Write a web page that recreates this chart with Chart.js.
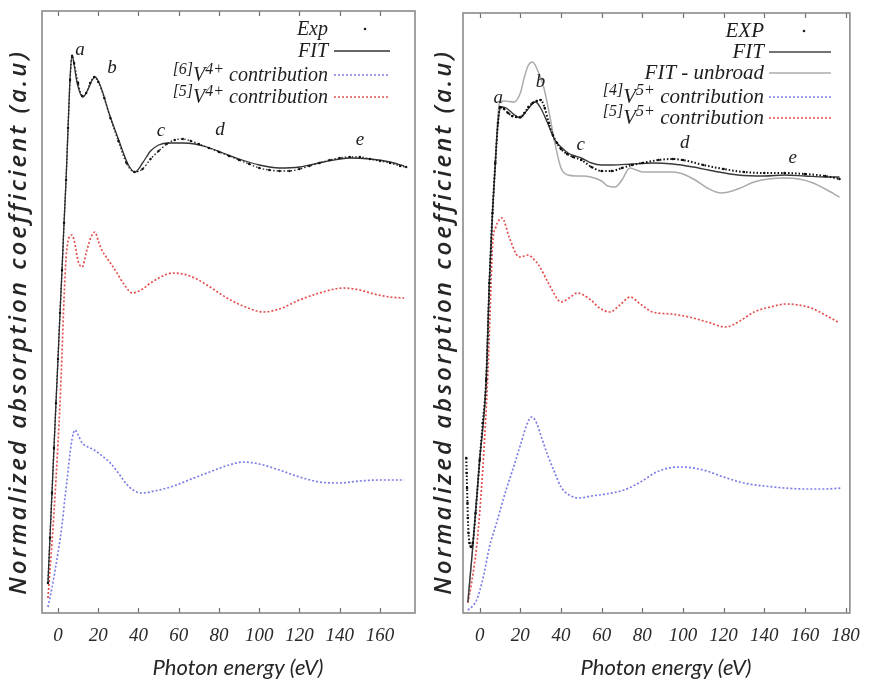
<!DOCTYPE html>
<html><head><meta charset="utf-8">
<script src="https://cdn.jsdelivr.net/npm/chart.js@4.4.1/dist/chart.umd.min.js"></script>
<style>
body{margin:0;background:#fff}
#wrap{position:relative;width:872px;height:682px;background:#fff}
canvas{position:absolute;top:0}
</style>
</head><body>
<div id="wrap">
<canvas id="cL" width="426" height="682" style="left:0"></canvas>
<canvas id="cR" width="446" height="682" style="left:426px"></canvas>
</div>
<script>
// ---------- Left panel (V4+) ----------
const leftTicks = [0,20,40,60,80,100,120,140,160];
const leftFitE = [-5,-3,-1,0,1,2,3,4,5,6,7,8,9.5,12.4,15,17,18.4,20,22,25,30,35,38.3,42,46,50,55,62,68,74,82,90,100,110,120,132,145,155,165,172];
const leftFit  = [0.30,1.2,2.1,2.54,3.0,3.43,3.9,4.33,4.85,5.35,5.58,5.48,5.30,5.16,5.24,5.33,5.36,5.32,5.22,5.02,4.74,4.48,4.41,4.50,4.62,4.68,4.70,4.70,4.69,4.66,4.60,4.54,4.48,4.45,4.46,4.51,4.55,4.54,4.51,4.47];
const leftExpE = [-5,-4,-3,-2,-1,0,1,2,3,4,5,6,7,8,10,12,14,16,18,20,23,26,30,34,38,42,46,50,54,58,62,66,70,75,80,85,90,95,100,105,110,115,120,125,130,135,140,145,150,155,160,165,170,173];
const leftExp  = [0.30,0.75,1.2,1.65,2.1,2.54,3.0,3.43,3.9,4.33,4.85,5.33,5.57,5.50,5.30,5.17,5.20,5.30,5.36,5.31,5.15,4.95,4.72,4.50,4.41,4.44,4.54,4.62,4.69,4.73,4.74,4.72,4.69,4.65,4.61,4.57,4.53,4.49,4.45,4.43,4.42,4.42,4.44,4.47,4.50,4.53,4.55,4.56,4.56,4.54,4.52,4.50,4.47,4.46];
const leftV6E  = [-5,-3,-1,0,2,3.5,5,6,7,8.4,10,12,14,18,22,26,30,34,38,42,48,56,65,74,85,92,100,110,120,130,140,150,160,172];
const leftV6   = [0.06,0.25,0.48,0.6,0.88,1.16,1.42,1.6,1.74,1.83,1.78,1.70,1.67,1.63,1.57,1.50,1.40,1.29,1.22,1.20,1.22,1.26,1.33,1.40,1.48,1.51,1.49,1.43,1.36,1.31,1.30,1.32,1.33,1.33];
const leftV5E  = [-5,-3,-2,0,1,2,3,4,5,6,7,8.5,10,12,14,16,18.4,20,22,24,29,33,37,42,46,52,57,62,68,74,84,92,102,110,120,130,142,150,157,165,172];
const leftV5   = [0.15,0.7,1.0,1.7,2.1,2.6,3.15,3.55,3.72,3.77,3.78,3.68,3.52,3.46,3.6,3.74,3.81,3.72,3.62,3.56,3.41,3.28,3.20,3.24,3.30,3.37,3.40,3.39,3.35,3.28,3.15,3.07,3.01,3.04,3.13,3.20,3.25,3.23,3.19,3.16,3.15];
const leftPeakNames = ['a','b','c','d','e'];
const leftPeakE = [10.9,26.8,51.2,80.5,150];
const leftPeakV = [5.63,5.45,4.82,4.83,4.73];

// ---------- Right panel (V5+) ----------
const rightTicks = [0,20,40,60,80,100,120,140,160,180];
const rightFitE = [-5.8,-3.4,0,3.2,4.8,6.3,7.7,9,10.6,13,16,20,23,27.5,30,33,37,40,43.5,47,50,55,60,65,75,85,95,105,115,127,140,150,160,170,177];
const rightFit  = [0.11,0.66,1.53,2.33,3.33,4.0,4.5,4.9,5.06,5.05,5.0,4.95,5.02,5.11,5.05,4.92,4.73,4.66,4.60,4.57,4.55,4.50,4.48,4.48,4.49,4.50,4.49,4.46,4.42,4.38,4.37,4.38,4.37,4.36,4.36];
const rightExpE = [-6.6,-6.4,-6.2,-6,-5.8,-5.5,-5,-4.2,-3.4,-2,0,1.5,3.2,4.8,6.3,7.7,9,10,12,14,16,18,20,22,24,26,28,30,32,34,36,38,40,43,46,50,55,60,65,70,75,80,88,95,100,110,120,130,140,150,160,170,177];
const rightExp  = [1.55,1.40,1.25,1.10,0.95,0.80,0.70,0.66,0.70,1.0,1.53,1.9,2.33,3.3,4.0,4.5,4.9,5.06,5.04,5.0,4.97,4.96,4.96,5.0,5.06,5.10,5.12,5.13,5.05,4.90,4.78,4.70,4.64,4.59,4.56,4.53,4.46,4.42,4.42,4.45,4.48,4.50,4.53,4.54,4.53,4.48,4.44,4.41,4.40,4.40,4.39,4.37,4.34];
const rightUnbE = [-5.8,-3.4,0,3.2,4.8,6.3,7.7,9.7,12,17,20,22,24,26,28,31.5,34,37,40,43.4,48,54.7,60,63,66.6,70,73.8,77,80.5,88,95,100,106,112,119,127,135,142,150,157,164,170,177];
const rightUnb  = [0.11,0.66,1.53,2.33,3.33,4.0,4.5,5.1,5.12,5.11,5.2,5.36,5.48,5.51,5.45,5.26,5.02,4.70,4.45,4.38,4.37,4.36,4.32,4.27,4.26,4.33,4.45,4.43,4.41,4.41,4.41,4.39,4.33,4.25,4.20,4.24,4.31,4.34,4.35,4.34,4.30,4.24,4.16];
const rightV4E  = [-5.8,-3,-1.5,0,2,4.8,8,13,17,20.8,23.5,25.6,28,30.5,33.8,37,40,44,49,55,62,71,80,86,93,100,110,120,130,140,150,160,170,178];
const rightV4   = [0.03,0.08,0.13,0.22,0.38,0.66,0.88,1.23,1.48,1.73,1.90,1.96,1.90,1.75,1.56,1.40,1.26,1.18,1.15,1.17,1.19,1.23,1.32,1.40,1.45,1.46,1.43,1.36,1.30,1.27,1.25,1.24,1.24,1.25];
const rightV5E  = [-5.8,-4,-1.5,0,2,3.9,4.8,5.6,6.4,8,9.5,11,14.5,17.7,19.3,22,24,26,29,33.8,38.6,40,44,48,54.7,59,64,69,74,79,85,94,103,112,121,128,135,143,151,157,163,170,177];
const rightV5   = [0.1,0.3,0.66,1.0,1.6,2.33,2.8,3.3,3.7,3.86,3.93,3.95,3.76,3.60,3.56,3.57,3.58,3.55,3.48,3.30,3.13,3.11,3.15,3.20,3.13,3.05,3.01,3.08,3.16,3.09,3.01,2.99,2.96,2.91,2.86,2.92,3.01,3.06,3.09,3.08,3.05,2.98,2.90];
const rightPeakNames = ['a','b','c','d','e'];
const rightPeakE = [9.2,29.9,49.7,100.9,154];
const rightPeakV = [5.15,5.31,4.68,4.70,4.55];

const xTitle = 'Photon energy (eV)';
const yTitle = 'Normalized absorption coefficient (a.u)';

// ---------- styles ----------
const BLUE = '#7d7de8', RED = '#e45050', BLACK = '#262626', GREY = '#ababab';
const SERIF = '"Liberation Serif", "Times New Roman", serif';
const SANS = 'Lato, "Open Sans", sans-serif';
const YSANS = '"Open Sans", Lato, sans-serif';

function pts(xs, ys){ return xs.map((x,i)=>({x:x, y:ys[i]})); }

function drawRich(ctx, parts, rightX, y, size){
  const supSize = Math.round(size*0.78);
  let total = 0;
  parts.forEach(p=>{ ctx.font = 'italic ' + (p.sup?supSize:size) + 'px ' + SERIF; p.w = ctx.measureText(p.t).width; total += p.w; });
  let x = rightX - total;
  ctx.textAlign = 'left'; ctx.textBaseline = 'alphabetic';
  parts.forEach(p=>{
    ctx.font = 'italic ' + (p.sup?supSize:size) + 'px ' + SERIF;
    ctx.fillText(p.t, x, p.sup ? y - size*0.36 : y);
    x += p.w;
  });
}

function framePlugin(cfg){
  return {
    id: 'frame',
    afterDraw(chart){
      const ctx = chart.ctx;
      const a = chart.chartArea;
      const xs = chart.scales.x, ys = chart.scales.y;
      ctx.save();
      // inward tick marks top and bottom
      ctx.strokeStyle = '#707070'; ctx.lineWidth = 1.2;
      cfg.ticks.forEach(v=>{
        const px = Math.round(xs.getPixelForValue(v)) + 0.5;
        ctx.beginPath();
        ctx.moveTo(px, a.bottom); ctx.lineTo(px, a.bottom - 5);
        ctx.moveTo(px, a.top); ctx.lineTo(px, a.top + 5);
        ctx.stroke();
      });
      // frame
      ctx.strokeStyle = '#8a8a8a'; ctx.lineWidth = 1.6;
      ctx.strokeRect(a.left, a.top, a.right - a.left, a.bottom - a.top);
      // peak labels
      ctx.fillStyle = '#222';
      ctx.font = 'italic 19px ' + SERIF;
      ctx.textAlign = 'center'; ctx.textBaseline = 'middle';
      cfg.peakNames.forEach((n,i)=>{
        ctx.fillText(n, xs.getPixelForValue(cfg.peakE[i]), ys.getPixelForValue(cfg.peakV[i]));
      });
      // legend
      cfg.legend.forEach(it=>{
        ctx.fillStyle = '#1e1e1e';
        drawRich(ctx, it.parts, cfg.legX, it.y + 6, cfg.legSize);
        ctx.setLineDash(it.dash || []);
        if (it.kind === 'dot'){
          ctx.fillStyle = it.color;
          ctx.beginPath(); ctx.arc(cfg.legDot, it.y, 1.3, 0, Math.PI*2); ctx.fill();
        } else {
          ctx.strokeStyle = it.color; ctx.lineWidth = it.width;
          ctx.beginPath(); ctx.moveTo(cfg.legL, it.y); ctx.lineTo(cfg.legR, it.y); ctx.stroke();
        }
        ctx.setLineDash([]);
      });
      // x title
      ctx.fillStyle = '#262626';
      ctx.font = 'italic 22px ' + SANS;
      ctx.textAlign = 'center'; ctx.textBaseline = 'middle';
      ctx.fillText(xTitle, cfg.xTitleX, 668);
      // y title
      ctx.translate(cfg.yTitleX, 322);
      ctx.rotate(-Math.PI/2);
      ctx.font = 'italic 600 24px ' + YSANS;
      ctx.letterSpacing = '0px';
      const w0 = ctx.measureText(yTitle).width;
      const ls = Math.max(0, (545 - w0) / yTitle.length);
      ctx.letterSpacing = ls.toFixed(2) + 'px';
      ctx.textAlign = 'center'; ctx.textBaseline = 'middle';
      ctx.fillText(yTitle, 0, 0);
      ctx.restore();
    }
  };
}

function makeChart(id, datasets, cfg){
  return new Chart(document.getElementById(id), {
    type: 'line',
    data: { datasets: datasets },
    options: {
      responsive: false, animation: false, devicePixelRatio: 1,
      layout: { padding: { left: cfg.padL, right: cfg.padR, top: cfg.padT, bottom: 0 } },
      plugins: { legend: { display: false }, tooltip: { enabled: false } },
      elements: { line: { cubicInterpolationMode: 'monotone' }, point: { radius: 0 } },
      scales: {
        x: {
          type: 'linear', min: cfg.xmin, max: cfg.xmax,
          afterBuildTicks: s => { s.ticks = cfg.ticks.map(v => ({ value: v })); },
          afterFit: s => { s.height = 682 - 613; },
          grid: { display: false, drawTicks: false },
          border: { display: false },
          ticks: { font: { family: SERIF, style: 'italic', size: 19 }, color: '#2a2a2a', padding: 12, maxRotation: 0, autoSkip: false }
        },
        y: { display: false, min: 0, max: cfg.ymax }
      }
    },
    plugins: [framePlugin(cfg)]
  });
}

makeChart('cL', [
  { data: pts(leftExpE, leftExp), borderColor: BLACK, borderWidth: 1.4, borderDash: [1.5, 2], pointRadius: 1.2, pointBackgroundColor: '#111', pointBorderWidth: 0 },
  { data: pts(leftFitE, leftFit), borderColor: '#333', borderWidth: 1.3 },
  { data: pts(leftV6E, leftV6), borderColor: BLUE, borderWidth: 1.7, borderDash: [2, 2] },
  { data: pts(leftV5E, leftV5), borderColor: RED, borderWidth: 1.7, borderDash: [2, 2] }
], {
  padL: 42, padR: 11, padT: 11, xmin: -7.95, xmax: 177.4, ymax: 6.02, ticks: leftTicks,
  peakNames: leftPeakNames, peakE: leftPeakE, peakV: leftPeakV,
  legX: 328, legL: 334, legR: 390, legDot: 365, legSize: 20,
  legend: [
    { parts: [{ t: 'Exp' }], y: 29, kind: 'dot', color: '#222' },
    { parts: [{ t: 'FIT' }], y: 51, kind: 'line', color: '#333', width: 1.5 },
    { parts: [{ t: '[6]', sup: 1 }, { t: 'V' }, { t: '4+', sup: 1 }, { t: ' contribution' }], y: 75, kind: 'line', color: BLUE, width: 1.6, dash: [2, 2] },
    { parts: [{ t: '[5]', sup: 1 }, { t: 'V' }, { t: '4+', sup: 1 }, { t: ' contribution' }], y: 97, kind: 'line', color: RED, width: 1.6, dash: [2, 2] }
  ],
  xTitleX: 238, yTitleX: 19
});

makeChart('cR', [
  { data: pts(rightExpE, rightExp), borderColor: '#111', borderWidth: 2, borderDash: [1.5, 2], pointRadius: 1.3, pointBackgroundColor: '#111', pointBorderWidth: 0 },
  { data: pts(rightFitE, rightFit), borderColor: '#3a3a3a', borderWidth: 1.4 },
  { data: pts(rightUnbE, rightUnb), borderColor: GREY, borderWidth: 1.5 },
  { data: pts(rightV4E, rightV4), borderColor: BLUE, borderWidth: 1.7, borderDash: [2, 2] },
  { data: pts(rightV5E, rightV5), borderColor: RED, borderWidth: 1.7, borderDash: [2, 2] }
], {
  padL: 37, padR: 15, padT: 13, xmin: -8.2, xmax: 182.1, ymax: 6.0, ticks: rightTicks,
  peakNames: rightPeakNames, peakE: rightPeakE, peakV: rightPeakV,
  legX: 338, legL: 343, legR: 405, legDot: 378, legSize: 21,
  legend: [
    { parts: [{ t: 'EXP' }], y: 31, kind: 'dot', color: '#222' },
    { parts: [{ t: 'FIT' }], y: 52, kind: 'line', color: '#444', width: 1.5 },
    { parts: [{ t: 'FIT - unbroad' }], y: 73, kind: 'line', color: GREY, width: 1.6 },
    { parts: [{ t: '[4]', sup: 1 }, { t: 'V' }, { t: '5+', sup: 1 }, { t: ' contribution' }], y: 97, kind: 'line', color: BLUE, width: 1.6, dash: [2, 2] },
    { parts: [{ t: '[5]', sup: 1 }, { t: 'V' }, { t: '5+', sup: 1 }, { t: ' contribution' }], y: 118, kind: 'line', color: RED, width: 1.6, dash: [2, 2] }
  ],
  xTitleX: 240, yTitleX: 18
});
</script>
</body></html>
